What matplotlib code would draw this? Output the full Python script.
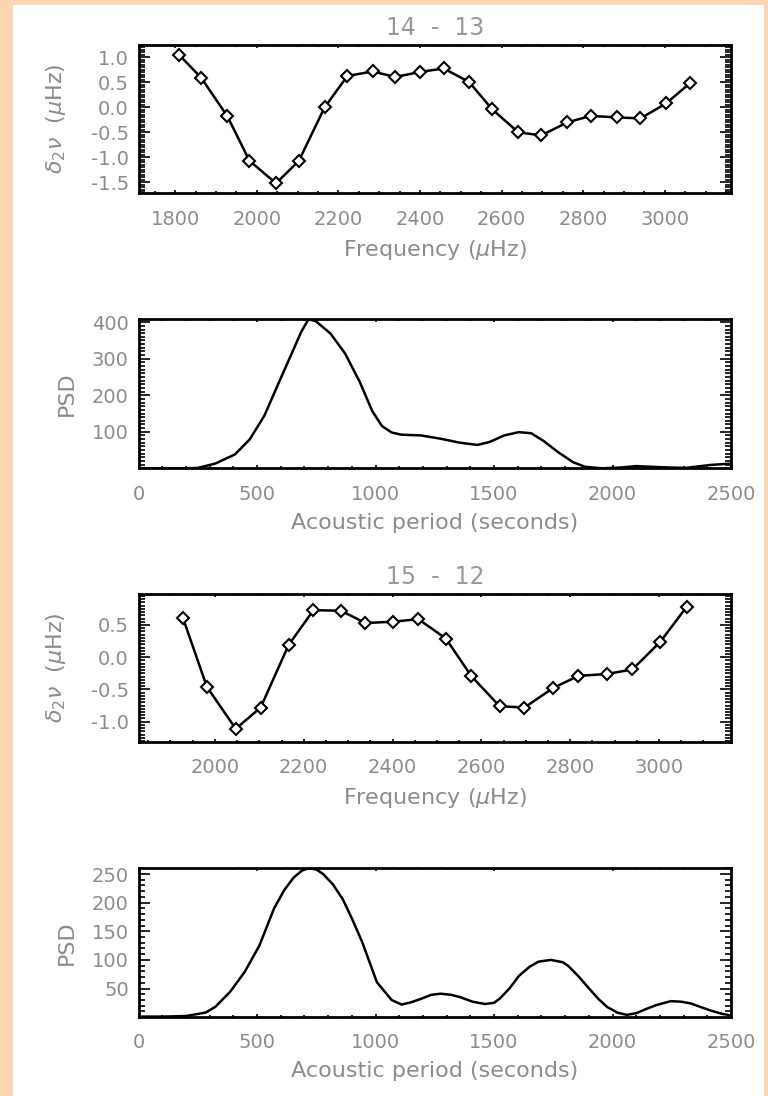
import numpy as np
import matplotlib.pyplot as plt
from matplotlib.patches import Rectangle
from matplotlib.ticker import MultipleLocator, FormatStrFormatter

# second differences, 14 - 13 combination
freq_a = [1810, 1864, 1928, 1982, 2047, 2103, 2166, 2222, 2284, 2339, 2400,
          2458, 2520, 2577, 2641, 2697, 2761, 2818, 2883, 2940, 3003, 3062]
d2nu_a = [1.05, 0.59, -0.18, -1.07, -1.52, -1.07, 0.00, 0.63, 0.72, 0.61, 0.71,
          0.78, 0.51, -0.04, -0.50, -0.56, -0.30, -0.17, -0.20, -0.22, 0.08, 0.49]

# second differences, 15 - 12 combination
freq_b = [1928, 1982, 2047, 2103, 2166, 2222, 2284, 2339, 2400, 2458,
          2520, 2577, 2641, 2697, 2761, 2818, 2883, 2940, 3003, 3062]
d2nu_b = [0.61, -0.46, -1.11, -0.78, 0.19, 0.73, 0.72, 0.53, 0.55, 0.59,
          0.29, -0.29, -0.76, -0.78, -0.48, -0.29, -0.26, -0.19, 0.24, 0.78]

# power spectra vs acoustic period
period_a = [0, 100, 200, 250, 324, 407, 469, 531, 593, 655, 686, 717, 748, 810,
            872, 934, 986, 1027, 1068, 1110, 1192, 1275, 1357, 1430, 1481, 1543,
            1605, 1657, 1709, 1771, 1833, 1884, 1957, 2030, 2101, 2205, 2308,
            2411, 2500]
psd_a = [0, 0, 0, 1, 13, 38, 79, 144, 236, 327, 373, 408, 403, 369,
         314, 236, 157, 116, 98, 92, 90, 81, 70, 64, 72, 90,
         99, 96, 75, 44, 17, 4, 0, 2, 6, 3, 1,
         9, 13]

period_b = [0, 100, 200, 283, 324, 386, 448, 510, 572, 615, 655, 690, 717, 750,
            779, 820, 862, 903, 944, 1006, 1068, 1110, 1150, 1192, 1235, 1275,
            1320, 1357, 1410, 1461, 1500, 1523, 1565, 1605, 1650, 1688, 1740,
            1790, 1812, 1855, 1895, 1940, 1977, 2020, 2060, 2101, 2140, 2184,
            2246, 2290, 2330, 2370, 2411, 2460, 2500]
psd_b = [1, 1, 2, 8, 18, 44, 79, 125, 190, 222, 244, 256, 260, 258,
         250, 232, 206, 170, 131, 61, 30, 22, 26, 32, 39, 41,
         39, 35, 27, 23, 25, 32, 50, 72, 88, 97, 100,
         96, 90, 72, 53, 32, 18, 8, 4, 7, 14, 21,
         28, 27, 24, 18, 12, 6, 3]

grey = '#8c8c8c'
peach = '#fcd6b2'
plt.rcParams['font.family'] = 'DejaVu Sans'
plt.rcParams['mathtext.fontset'] = 'dejavusans'
plt.rcParams['font.size'] = 14

fig = plt.figure(figsize=(7.68, 10.96), dpi=100, facecolor=peach)
fig.add_artist(Rectangle((13 / 768, 0), 751 / 768, 1091 / 1096,
                         transform=fig.transFigure, facecolor='white',
                         edgecolor='none', zorder=0))

left, width = 138.5 / 768, 592.5 / 768
tops = [45, 319.3, 594, 868.3]
bottoms = [193.3, 468.3, 741.7, 1016.6]
axes = [fig.add_axes([left, 1 - b / 1096, width, (b - t) / 1096])
        for t, b in zip(tops, bottoms)]


def style(ax, xmaj, xmin, ymaj, ymin):
    for s in ax.spines.values():
        s.set_linewidth(2.0)
    ax.xaxis.set_major_locator(MultipleLocator(xmaj))
    ax.xaxis.set_minor_locator(MultipleLocator(xmin))
    ax.yaxis.set_major_locator(MultipleLocator(ymaj))
    ax.yaxis.set_minor_locator(MultipleLocator(ymin))
    ax.tick_params(which='both', direction='in', top=True, right=True,
                   colors='black', labelcolor=grey, width=1.2)
    ax.tick_params(axis='x', which='major', length=2.5, pad=12)
    ax.tick_params(axis='x', which='minor', length=1.5)
    ax.tick_params(axis='y', which='major', length=8, pad=7)
    ax.tick_params(axis='y', which='minor', length=4)


def freq_panel(ax, f, d, title):
    ax.plot(f, d, color='black', lw=1.8, marker='D', ms=6.5, mfc='white',
            mec='black', mew=1.5)
    ax.set_xlim(min(f) - 100, max(f) + 100)
    ax.set_ylim(min(d) - 0.2, max(d) + 0.2)
    style(ax, 200, 50, 0.5, 0.05)
    ax.yaxis.set_major_formatter(FormatStrFormatter('%.1f'))
    ax.set_title(title, color='#999999', fontsize=17, pad=7)
    ax.set_xlabel(r'Frequency ($\mu$Hz)', color=grey, fontsize=16)
    ax.xaxis.set_label_coords(0.5, -0.30)
    ax.set_ylabel(r'$\delta_2\nu$  ($\mu$Hz)', color=grey, fontsize=16,
                  va='center')
    ax.yaxis.set_label_coords(-0.139, 0.5)


def psd_panel(ax, p, s, ymaj, ymin, yticks):
    ax.plot(p, s, color='black', lw=1.8)
    ax.set_xlim(0, 2500)
    ax.set_ylim(min(s), max(s))
    style(ax, 500, 100, ymaj, ymin)
    ax.set_yticks(yticks)
    ax.set_xlabel('Acoustic period (seconds)', color=grey, fontsize=16)
    ax.xaxis.set_label_coords(0.5, -0.30)
    ax.set_ylabel('PSD', color=grey, fontsize=16, va='center')
    ax.yaxis.set_label_coords(-0.121, 0.5)


freq_panel(axes[0], freq_a, d2nu_a, '14  -  13')
psd_panel(axes[1], period_a, psd_a, 100, 10, [100, 200, 300, 400])
freq_panel(axes[2], freq_b, d2nu_b, '15  -  12')
psd_panel(axes[3], period_b, psd_b, 50, 10, [50, 100, 150, 200, 250])

fig.savefig('out.png', dpi=100, facecolor=peach)
